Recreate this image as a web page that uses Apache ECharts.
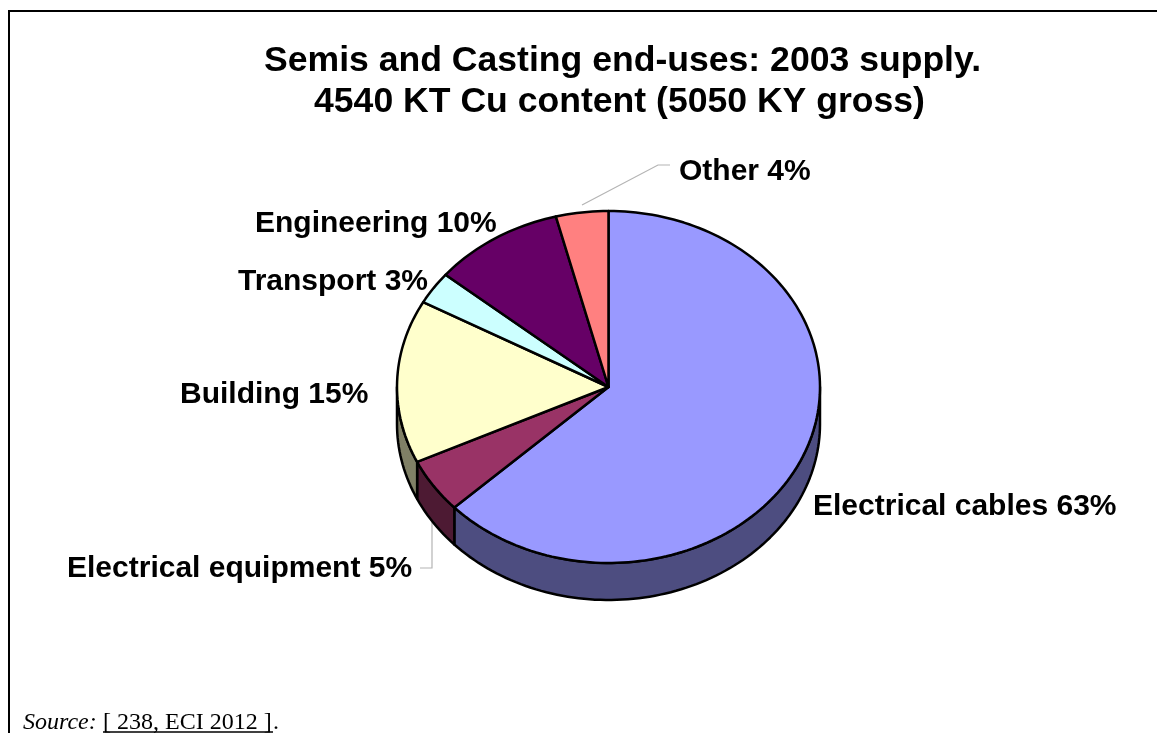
<!DOCTYPE html>
<html>
<head>
<meta charset="utf-8">
<style>html,body{margin:0;padding:0;background:#fff}#c{width:1157px;height:733px}</style>
<script src="https://cdn.jsdelivr.net/npm/echarts@6/dist/echarts.min.js"></script>
</head>
<body>
<div id="c"></div>
<script>
const titleLines = ['Semis and Casting end-uses: 2003 supply.', '4540 KT Cu content (5050 KY gross)'];
const categories = ['Electrical cables', 'Electrical equipment', 'Building', 'Transport', 'Engineering', 'Other'];
const shares = [63, 5, 15, 3, 10, 4];
const topColors = ['#9999FF', '#993366', '#FFFFCC', '#CCFFFF', '#660066', '#FF8080'];
const wallColors = ['#4D4D80', '#4D1A33', '#808066', '#668080', '#330033', '#804040'];

const CX = 608.5, CY = 387, RX = 211.5, RY = 176, DEPTH = 37;
const total = shares.reduce((a, b) => a + b, 0);
const pt = (deg, dy) => {
  const r = deg * Math.PI / 180;
  return [CX + RX * Math.sin(r), CY - RY * Math.cos(r) + (dy || 0)];
};
const arc = (a0, a1, dy) => {
  const out = [], n = Math.max(2, Math.ceil(Math.abs(a1 - a0) / 1.5));
  for (let i = 0; i <= n; i++) out.push(pt(a0 + (a1 - a0) * i / n, dy));
  return out;
};
const edge = { stroke: '#000', lineWidth: 2.5, lineJoin: 'round' };

function renderItem(params, api) {
  const i = params.dataIndex;
  let before = 0;
  for (let k = 0; k < i; k++) before += shares[k];
  const a0 = before / total * 360;
  const a1 = (before + api.value(0)) / total * 360;
  const children = [];
  const w0 = Math.max(a0, 90), w1 = Math.min(a1, 270);
  if (w1 > w0) {
    children.push({
      type: 'polygon',
      shape: { points: arc(w0, w1, 0).concat(arc(w1, w0, DEPTH)) },
      style: Object.assign({ fill: wallColors[i] }, edge)
    });
  }
  children.push({
    type: 'polygon',
    shape: { points: [[CX, CY]].concat(arc(a0, a1, 0)) },
    style: Object.assign({ fill: topColors[i] }, edge)
  });
  return { type: 'group', children };
}

const boldFont = '"Liberation Sans", Arial, sans-serif';
const label = (i, x, y) => ({
  type: 'text', x, y,
  style: {
    text: categories[i] + ' ' + shares[i] + '%',
    font: 'bold 30px ' + boldFont,
    fill: '#000', textAlign: 'left', textVerticalAlign: 'middle'
  }
});
const leader = (points) => ({
  type: 'polyline', shape: { points },
  style: { stroke: '#b4b4b4', lineWidth: 1.2, fill: null }
});
const serif = (text, x, style) => ({
  type: 'text', x, y: 723,
  style: { text, font: (style || '') + ' 24px "Liberation Serif", serif', fill: '#000', textVerticalAlign: 'middle' }
});

const chart = echarts.init(document.getElementById('c'), null, { renderer: 'canvas' });
chart.setOption({
  animation: false,
  backgroundColor: '#fff',
  series: [{
    type: 'custom',
    coordinateSystem: 'none',
    renderItem,
    data: shares.map((v, i) => ({ name: categories[i], value: [v] }))
  }],
  graphic: [
    { type: 'line', shape: { x1: 9, y1: 11, x2: 1157, y2: 11 }, style: { stroke: '#000', lineWidth: 2 } },
    { type: 'line', shape: { x1: 9, y1: 10, x2: 9, y2: 733 }, style: { stroke: '#000', lineWidth: 2 } },
    { type: 'text', x: 622.5, y: 61, style: { text: titleLines[0], font: 'bold 35.6px ' + boldFont, fill: '#000', textAlign: 'center', textVerticalAlign: 'middle' } },
    { type: 'text', x: 619.5, y: 102, style: { text: titleLines[1], font: 'bold 35.6px ' + boldFont, fill: '#000', textAlign: 'center', textVerticalAlign: 'middle' } },
    label(0, 813, 507),
    label(1, 67, 569),
    label(2, 180, 395),
    label(3, 238, 282),
    label(4, 255, 224),
    label(5, 679, 172),
    leader([[582, 205], [658, 165], [670, 165]]),
    leader([[432, 522], [432, 568], [420, 568]]),
    serif('Source:', 23, 'italic'),
    serif('[ 238, ECI 2012 ]', 103),
    serif('.', 273),
    { type: 'line', shape: { x1: 103, y1: 732, x2: 273, y2: 732 }, style: { stroke: '#000', lineWidth: 1.4 } }
  ]
});
</script>
</body>
</html>
